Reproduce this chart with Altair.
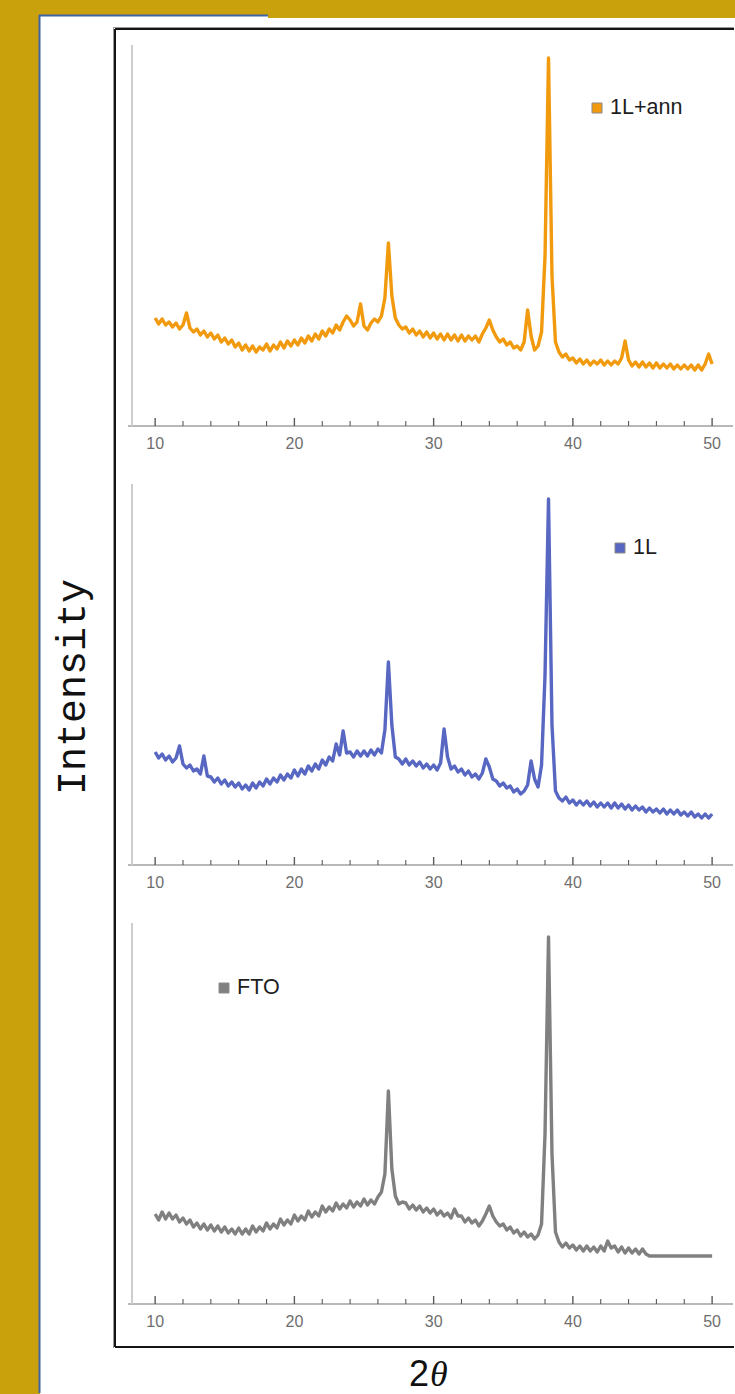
import altair as alt
import pandas as pd

# ---------------- data ----------------
theta_start = 10.0          # first 2-theta sample (deg)
theta_step = 0.25           # sample spacing (deg)

series_names = ["1L+ann", "1L", "FTO"]
series_colors = ["#F29A0E", "#5767C2", "#808080"]

# intensity (a.u.), one value per 0.25 deg from 10 to 50 deg
intensity_1L_ann = [
    108, 102, 107, 101,  104, 99, 103, 97,   101, 113, 98, 94,   97, 91, 95, 89,
    93, 87, 91, 84,      88, 82, 86, 79,     83, 76, 81, 75,     80, 74, 79, 76,
    82, 75, 81, 77,      84, 78, 85, 80,     86, 81, 88, 83,     90, 85, 92, 87,
    95, 90, 97, 93,      101, 96, 104, 110,  106, 100, 104, 122, 100, 96, 103, 107,
    104, 110, 128, 183,  130, 108, 101, 97,  99, 93, 97, 91,     95, 89, 94, 88,
    93, 87, 92, 86,      92, 86, 91, 85,     91, 85, 90, 86,     90, 84, 92, 98,
    106, 96, 89, 84,     87, 81, 84, 78,     80, 76, 84, 116,    90, 76, 80, 94,
    170, 368, 150, 84,   74, 69, 72, 66,     68, 63, 67, 62,     66, 61, 65, 62,
    66, 61, 65, 61,      65, 62, 68, 85,     66, 60, 64, 59,     64, 59, 63, 58,
    63, 58, 62, 58,      62, 57, 61, 57,     61, 57, 61, 56,     61, 56, 62, 72,
    62,
]

intensity_1L = [
    113, 107, 111, 105,  109, 103, 107, 119,  101, 97, 100, 94,   96, 91, 109, 89,
    88, 83, 87, 81,      85, 79, 83, 78,      82, 76, 80, 75,     82, 77, 83, 79,
    86, 81, 87, 83,      90, 85, 91, 87,      95, 89, 96, 91,     99, 94, 101, 96,
    105, 100, 108, 104,  121, 110, 134, 112,  113, 108, 114, 109, 114, 109, 115, 110,
    116, 112, 135, 203,  140, 108, 106, 101,  106, 100, 104, 99,  103, 97, 101, 96,
    100, 95, 102, 136,   108, 96, 99, 93,     96, 90, 94, 88,     91, 86, 92, 106,
    98, 86, 84, 79,      82, 77, 79, 73,      76, 71, 74, 80,     104, 86, 78, 100,
    190, 366, 140, 74,   67, 64, 68, 62,      65, 60, 64, 60,     64, 59, 63, 58,
    62, 58, 62, 57,      62, 57, 61, 56,      60, 55, 59, 55,     58, 53, 57, 53,
    56, 52, 56, 51,      55, 51, 55, 50,      53, 49, 53, 48,     51, 47, 51, 47,
    51,
]

intensity_FTO = [
    90, 84, 92, 85,      91, 85, 89, 82,      86, 80, 84, 77,     81, 75, 80, 74,
    79, 73, 78, 72,      77, 71, 75, 70,      76, 70, 75, 70,     78, 72, 77, 73,
    81, 75, 80, 76,      85, 79, 84, 80,      89, 83, 88, 84,     93, 87, 92, 88,
    98, 92, 97, 93,      101, 95, 100, 96,    103, 97, 102, 98,   105, 99, 104, 100,
    107, 112, 130, 213,  135, 108, 100, 102,  101, 95, 99, 94,    98, 92, 96, 91,
    95, 89, 93, 88,      91, 86, 95, 88,      88, 82, 86, 81,     84, 78, 83, 90,
    98, 88, 82, 78,      80, 74, 77, 71,      74, 68, 72, 67,     70, 65, 69, 80,
    170, 367, 150, 72,   62, 57, 61, 56,      59, 54, 58, 53,     58, 53, 57, 52,
    58, 53, 63, 56,      58, 52, 57, 51,      56, 51, 55, 50,     55, 50, 48, 48,
    48, 48, 48, 48,      48, 48, 48, 48,      48, 48, 48, 48,     48, 48, 48, 48,
    48,
]

major_ticks = [10, 20, 30, 40, 50]
tick_labels = ["10", "20", "30", "40", "50"]
minor_ticks = [12, 14, 16, 18, 22, 24, 26, 28, 32, 34, 36, 38, 42, 44, 46, 48]
x_title_main = "2"
x_title_symbol = "θ"
y_title = "Intensity"

# ---------------- layout / style ----------------
W, H = 605, 381
x_domain = [8.05, 51.5]
y_domain = [0, 381]
GOLD = "#C9A10C"
BLUE = "#3E63A6"
TICK = "#5a5a5a"
one = pd.DataFrame({"k": [0]})

xs = alt.Scale(domain=x_domain, nice=False, zero=False)
ys = alt.Scale(domain=y_domain, nice=False, zero=False)


def deco_rect(x1, x2, y1, y2, color):
    return alt.Chart(one).mark_rect(color=color).encode(
        x=alt.value(x1), x2=alt.value(x2), y=alt.value(y1), y2=alt.value(y2))


def hline(x1, x2, y, color, w):
    return alt.Chart(one).mark_rule(color=color, strokeWidth=w).encode(
        x=alt.value(x1), x2=alt.value(x2), y=alt.value(y))


def vline(x, y1, y2, color, w):
    return alt.Chart(one).mark_rule(color=color, strokeWidth=w).encode(
        x=alt.value(x), y=alt.value(y1), y2=alt.value(y2))


def tick_marks(vals, length, width):
    d = pd.DataFrame({"t": vals})
    rule = alt.Chart(d).mark_rule(color=TICK, strokeWidth=width, opacity=1).encode(
        x=alt.X("t:Q", scale=xs, axis=None), y=alt.value(H), y2=alt.value(H - length))
    return [rule]


def panel(values, color, label, leg_x, leg_y, extra=None):
    n = len(values)
    df = pd.DataFrame({
        "two_theta": [theta_start + theta_step * i for i in range(n)],
        "intensity": values,
    })
    line = alt.Chart(df).mark_line(color=color, strokeWidth=3.4, strokeJoin="round").encode(
        x=alt.X("two_theta:Q", scale=xs, axis=None),
        y=alt.Y("intensity:Q", scale=ys, axis=None))
    x_dom = hline(0, W, H, "#a0a0a0", 1.5)
    y_dom = vline(4, 0, H, "#cdcdcd", 2)
    labels = alt.Chart(pd.DataFrame({"t": major_ticks, "lab": tick_labels})).mark_text(
        align="center", baseline="top", fontSize=16, font="Liberation Sans",
        color="#6e6e6e").encode(
        x=alt.X("t:Q", scale=xs, axis=None), y=alt.value(H + 10), text="lab:N")
    lab = pd.DataFrame({"label": [label]})
    sq = alt.Chart(lab).mark_square(size=100, color=color, stroke="#8a8a8a",
                                    strokeWidth=1, opacity=1).encode(
        x=alt.value(leg_x), y=alt.value(leg_y))
    txt = alt.Chart(lab).mark_text(align="left", baseline="middle", fontSize=21.5,
                                   font="Liberation Sans", color="#1e1e1e").encode(
        x=alt.value(leg_x + 13), y=alt.value(leg_y), text="label:N")
    layers = ((extra or []) + [x_dom, y_dom, labels, line]
              + tick_marks(major_ticks, 8, 1.4) + tick_marks(minor_ticks, 5, 1.1)
              + [sq, txt])
    return alt.layer(*layers).properties(width=W, height=H)


# page decorations, in the first panel's pixel frame (origin = page (128, 45))
ylab = pd.DataFrame({"t": [y_title]})
xlab1 = pd.DataFrame({"t": [x_title_main]})
xlab2 = pd.DataFrame({"t": [x_title_symbol]})
decorations = [
    deco_rect(-128, 607, -45, 1349, GOLD),
    deco_rect(-88, 607, -27, 1349, "#ffffff"),
    deco_rect(-88, 140, -29, -27, "#ffffff"),
    hline(-89, 140, -29.5, BLUE, 2),
    vline(-88.5, -30, 1348, BLUE, 2),
    vline(-14.5, -17, 1303, "#9a9a9a", 1),
    hline(-15, 606, -17.5, "#9a9a9a", 1),
    vline(-13, -16, 1302, "#141414", 2),
    hline(-13, 606, -16, "#141414", 2),
    hline(-13, 606, 1302, "#141414", 2),
    alt.Chart(ylab).mark_text(angle=270, align="center", baseline="middle", fontSize=40,
                              font="Liberation Mono", color="#111111").encode(
        x=alt.value(-55), y=alt.value(642), text="t:N"),
    alt.Chart(xlab1).mark_text(align="right", baseline="alphabetic", fontSize=36,
                               font="Liberation Sans", color="#111111").encode(
        x=alt.value(301), y=alt.value(1341), text="t:N"),
    alt.Chart(xlab2).mark_text(align="left", baseline="alphabetic", fontSize=36,
                               font="Liberation Serif", fontStyle="italic", color="#111111").encode(
        x=alt.value(302), y=alt.value(1341), text="t:N"),
]

p1 = panel(intensity_1L_ann, series_colors[0], series_names[0], 469, 63, decorations)
p2 = panel(intensity_1L, series_colors[1], series_names[1], 492, 64)
p3 = panel(intensity_FTO, series_colors[2], series_names[2], 96, 65)

chart = alt.vconcat(p1, p2, p3, spacing=58, bounds="flush").properties(
    padding=0, background=GOLD
).configure_view(strokeWidth=0)

chart.save("out.html", embed_options={"renderer": "svg", "actions": False})
